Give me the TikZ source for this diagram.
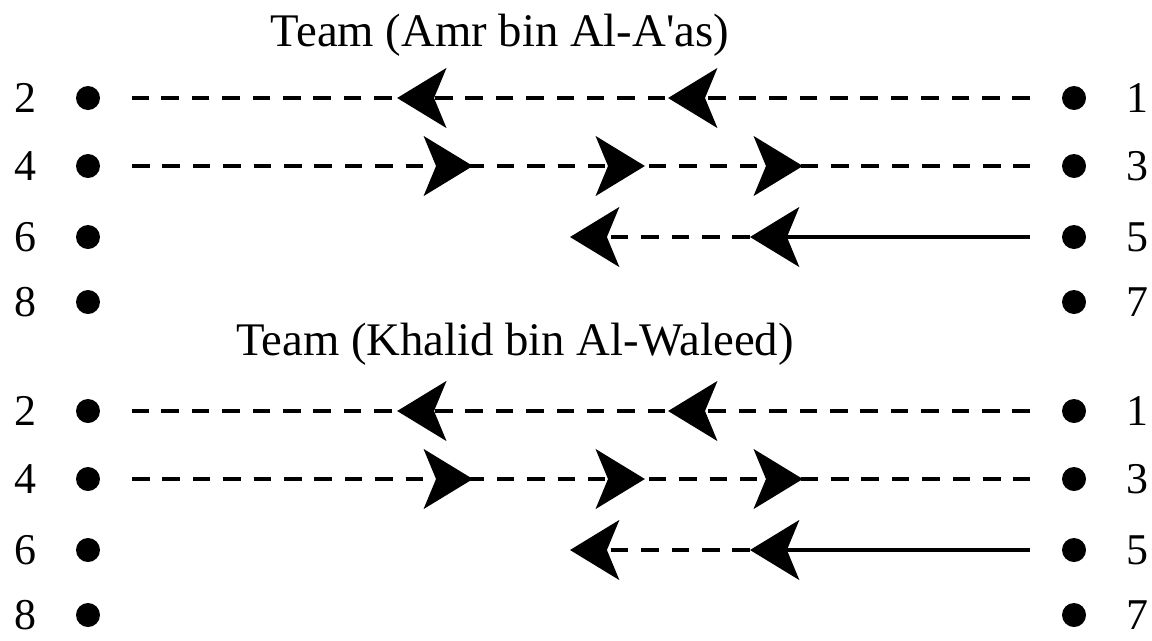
\documentclass[tikz,border=0pt]{standalone}
\usepackage{fontspec}
\setmainfont{Liberation Serif}
\usetikzlibrary{arrows.meta,decorations.markings}
\tikzset{
  dot/.style={circle,fill=black,inner sep=0pt,minimum size=0.48cm,outer sep=0.64cm},
  num/.style={font=\fontsize{25}{30}\selectfont,inner sep=0pt,text height=17pt,text depth=0pt},
  teamtitle/.style={font=\fontsize{26.6}{30}\selectfont,inner sep=0pt,anchor=base},
  move/.style={line width=2pt},
  feint/.style={move,dash pattern=on 10pt off 7.3pt},
}
\begin{document}
\begin{tikzpicture}[x=0.02cm,y=-0.02cm,>={Stealth[length=28pt,width=34pt,inset=7pt]}]
  \useasboundingbox (0,0) rectangle (1152,640);
  \foreach \d/\t/\ty/\tx/\tname in {
    0/a/46/500/{Team (Amr bin Al-A\textquotesingle as)},
    313/b/355/515/{Team (Khalid bin Al-Waleed)}}{
      \node[teamtitle] (title-\t) at (\tx,\ty) {\tname};
      \foreach \y/\l/\r in {98/2/1,166/4/3,237/6/5,302/8/7}{
        \node[num] (n\l-\t) at (25,\y+\d) {\l};
        \node[dot] (l\l-\t) at (88,\y+\d) {};
        \node[dot] (r\r-\t) at (1074,\y+\d) {};
        \node[num] (n\r-\t) at (1137,\y+\d) {\r};
      }
      % passes back and forth
      \draw[feint,postaction={decorate},decoration={markings,
          mark=at position 7.24cm with {\arrow{>}},
          mark=at position 12.66cm with {\arrow{>}}}] (r1-\t) -- (l2-\t);
      \draw[feint,postaction={decorate},decoration={markings,
          mark=at position 6.82cm with {\arrow{>}},
          mark=at position 10.26cm with {\arrow{>}},
          mark=at position 13.42cm with {\arrow{>}}}] (l4-\t) -- (r3-\t);
      \coordinate (s5-\t) at (750,237+\d);
      \coordinate (s6-\t) at (570,237+\d);
      \draw[move,->] (r5-\t) -- (s5-\t);
      \draw[feint,->] (s5-\t) -- (s6-\t);
  }
\end{tikzpicture}
\end{document}
